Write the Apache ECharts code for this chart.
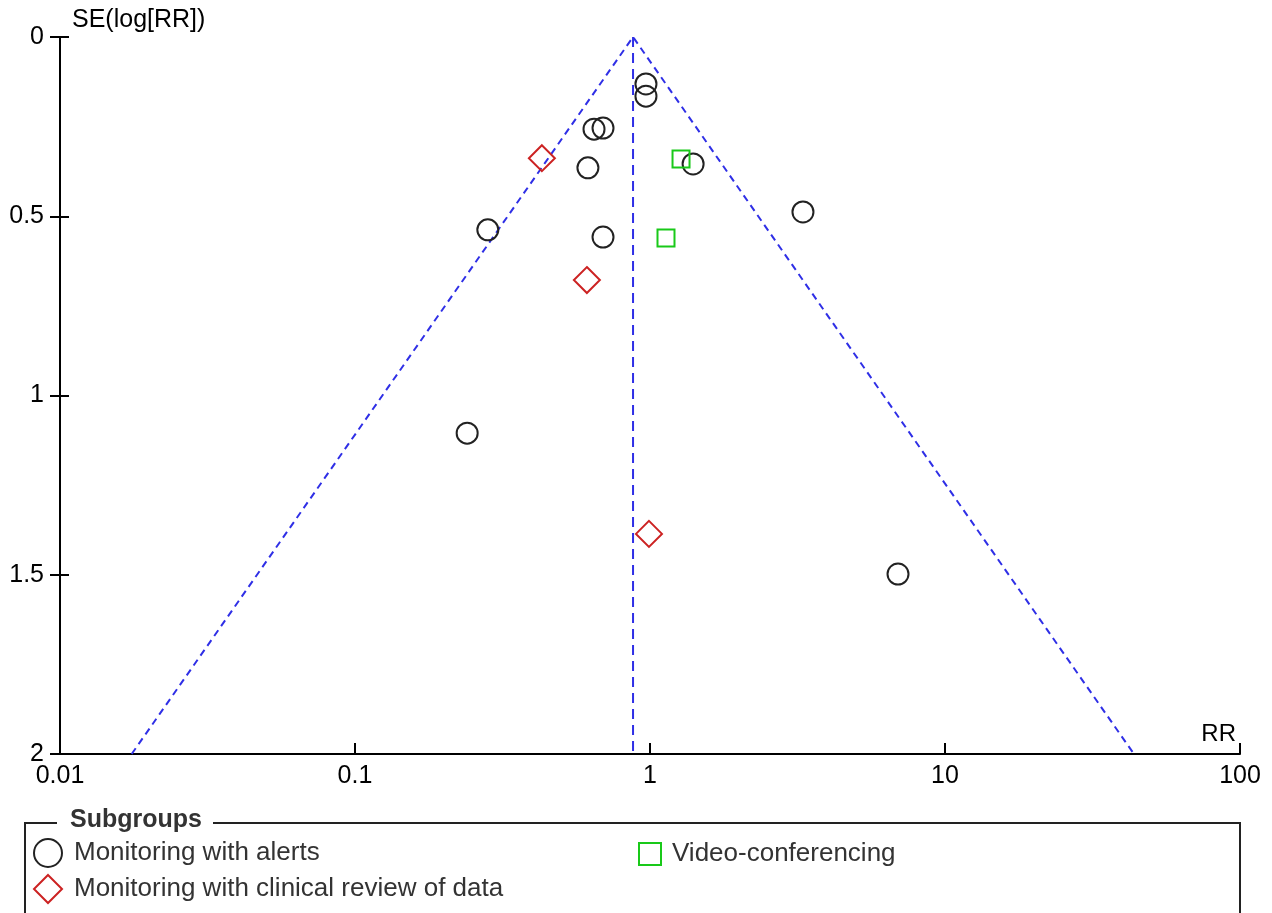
<!DOCTYPE html>
<html>
<head>
<meta charset="utf-8">
<script src="https://cdn.jsdelivr.net/npm/echarts@6/dist/echarts.min.js"></script>
<style>
html,body{margin:0;padding:0;background:#fff;}
#chart{width:1272px;height:913px;}
</style>
</head>
<body>
<div id="chart"></div>
<script>
// ---- Data ----
const seriesNames = ['Monitoring with alerts', 'Monitoring with clinical review of data', 'Video-conferencing'];
const alertsRR = [0.969, 0.969, 0.646, 0.693, 0.616, 1.40, 3.30, 0.282, 0.693, 0.240, 6.93];
const alertsSE = [0.131, 0.165, 0.257, 0.254, 0.365, 0.354, 0.488, 0.538, 0.558, 1.105, 1.498];
const clinicalRR = [0.430, 0.611, 0.992];
const clinicalSE = [0.338, 0.678, 1.386];
const videoRR = [1.274, 1.133];
const videoSE = [0.340, 0.561];
// funnel (pooled estimate and 95% limits at SE = 2)
const pooledRR = 0.876;
const funnelLeftRR = 0.0175;
const funnelRightRR = 43.7;
const seMax = 2;
const xTicks = [0.01, 0.1, 1, 10, 100];
const yTicks = [0, 0.5, 1, 1.5, 2];

const pairs = (xs, ys) => xs.map((x, i) => [x, ys[i]]);
const FONT = '"Liberation Sans", Arial, sans-serif';
const blue = '#2f2fe6';

const chart = echarts.init(document.getElementById('chart'));
const option = {
  backgroundColor: '#fff',
  animation: false,
  grid: { left: 60, right: 32, top: 37, bottom: 159 },
  xAxis: {
    type: 'log', logBase: 10, min: xTicks[0], max: xTicks[xTicks.length - 1],
    position: 'bottom',
    name: 'RR', nameLocation: 'end', nameGap: 0,
    nameTextStyle: { color: '#000', fontFamily: FONT, fontSize: 24, align: 'right', verticalAlign: 'bottom', padding: [0, 4, 8, 0] },
    axisLine: { onZero: false, lineStyle: { color: '#000', width: 2 } },
    axisTick: { inside: true, length: 11, lineStyle: { color: '#000', width: 2 } },
    axisLabel: { color: '#000', fontFamily: FONT, fontSize: 25, margin: 10,
      formatter: v => String(v) },
    splitLine: { show: false }
  },
  yAxis: [{
    type: 'value', inverse: true, min: 0, max: seMax, interval: 0.5,
    name: 'SE(log[RR])', nameLocation: 'start', nameGap: 4,
    nameTextStyle: { color: '#000', fontFamily: FONT, fontSize: 25, align: 'left', verticalAlign: 'bottom', padding: [0, 0, 0, 12] },
    axisLine: { onZero: false, lineStyle: { color: '#000', width: 2 } },
    axisTick: { length: 10, lineStyle: { color: '#000', width: 2 } },
    axisLabel: { color: '#000', fontFamily: FONT, fontSize: 25, margin: 16,
      formatter: v => String(v) },
    splitLine: { show: false }
  }, {
    type: 'value', inverse: true, min: 0, max: seMax, interval: 0.5, position: 'left',
    axisLine: { show: false, onZero: false },
    axisTick: { inside: true, length: 9, lineStyle: { color: '#000', width: 2 } },
    axisLabel: { show: false },
    splitLine: { show: false }
  }],
  legend: [{
    orient: 'vertical', left: 33, top: 838, height: 76, padding: 0,
    itemWidth: 28, itemHeight: 28, itemGap: 6,
    textStyle: { color: '#333', fontFamily: FONT, fontSize: 26, padding: [0, 0, 0, 7] },
    data: [
      { name: seriesNames[0], icon: 'circle', itemStyle: { color: 'rgba(0,0,0,0)', borderColor: '#222', borderWidth: 2 } },
      { name: seriesNames[1], icon: 'diamond', itemStyle: { color: 'rgba(0,0,0,0)', borderColor: '#cc2222', borderWidth: 2 } }
    ]
  }, {
    orient: 'vertical', left: 638, top: 841, height: 40, padding: 0,
    itemWidth: 22, itemHeight: 22,
    textStyle: { color: '#333', fontFamily: FONT, fontSize: 26, padding: [0, 0, 0, 6] },
    data: [
      { name: seriesNames[2], icon: 'rect', itemStyle: { color: 'rgba(0,0,0,0)', borderColor: '#19c919', borderWidth: 2 } }
    ]
  }],
  graphic: [
    { type: 'rect', z: 0, shape: { x: 25, y: 823, width: 1215, height: 140 },
      style: { fill: 'none', stroke: '#222', lineWidth: 2 } },
    { type: 'rect', z: 1, shape: { x: 57, y: 810, width: 156, height: 26 },
      style: { fill: '#fff' } },
    { type: 'text', z: 2, left: 70, top: 808,
      style: { text: 'Subgroups', fill: '#333', font: 'bold 25px ' + FONT } }
  ],
  series: [
    { type: 'line', name: 'funnel', data: [[funnelLeftRR, seMax], [pooledRR, 0], [funnelRightRR, seMax]],
      symbol: 'none', silent: true, z: 1,
      lineStyle: { color: blue, width: 2, type: [7, 5] } },
    { type: 'line', name: 'pooled', data: [[pooledRR, 0], [pooledRR, seMax]],
      symbol: 'none', silent: true, z: 1,
      lineStyle: { color: blue, width: 2, type: [10, 6] } },
    { type: 'scatter', name: seriesNames[0], data: pairs(alertsRR, alertsSE),
      symbol: 'circle', symbolSize: 21, z: 3,
      itemStyle: { color: 'rgba(0,0,0,0)', borderColor: '#222', borderWidth: 2, opacity: 1 } },
    { type: 'scatter', name: seriesNames[1], data: pairs(clinicalRR, clinicalSE),
      symbol: 'diamond', symbolSize: 26, z: 3,
      itemStyle: { color: 'rgba(0,0,0,0)', borderColor: '#cc2222', borderWidth: 2, opacity: 1 } },
    { type: 'scatter', name: seriesNames[2], data: pairs(videoRR, videoSE),
      symbol: 'rect', symbolSize: 17, z: 3,
      itemStyle: { color: 'rgba(0,0,0,0)', borderColor: '#19c919', borderWidth: 2, opacity: 1 } }
  ]
};
chart.setOption(option);
</script>
</body>
</html>
